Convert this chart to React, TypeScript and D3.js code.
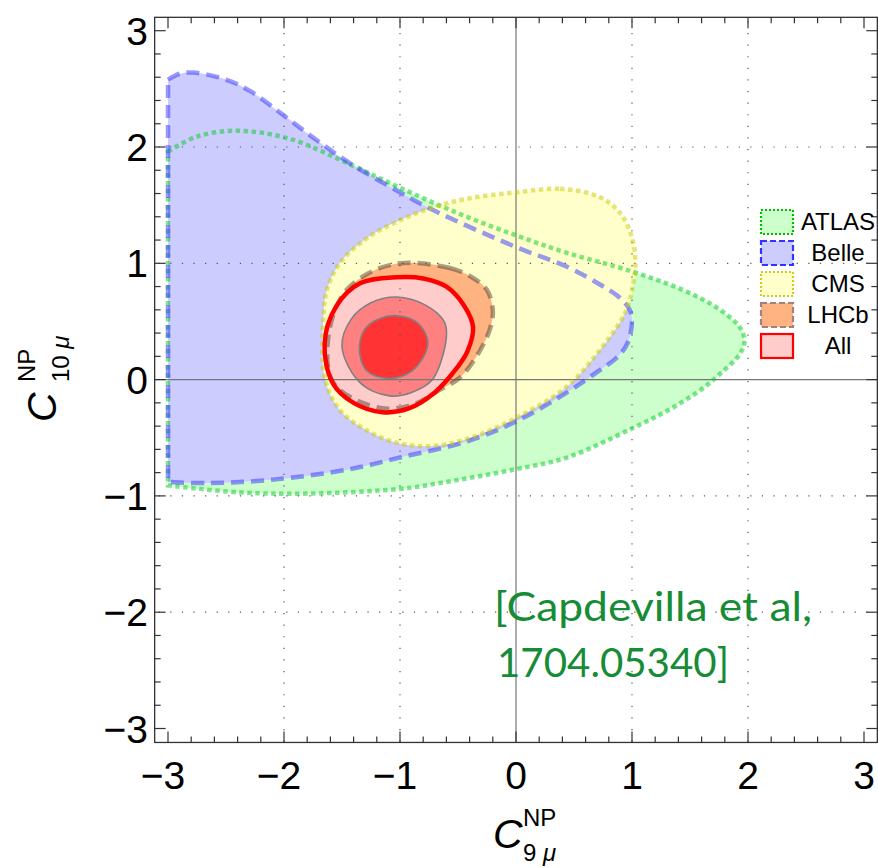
import * as d3 from "d3";
import React from "react";

// contour outlines, [C9, C10] pairs
const atlas: [number, number][] = [
  [-3, 1.96], [-2.75, 2.09], [-2.4, 2.14], [-1.95, 2.07], [-1.43, 1.85], [-1.0, 1.65],
  [-0.5, 1.43], [0, 1.24], [0.44, 1.09], [1.0, 0.93], [1.44, 0.77], [1.73, 0.62],
  [1.93, 0.45], [1.97, 0.33], [1.93, 0.22], [1.76, 0.05], [1.59, -0.09], [1.3, -0.27],
  [1.0, -0.42], [0.44, -0.67], [0, -0.77], [-0.66, -0.89], [-1.0, -0.94], [-1.8, -0.98],
  [-2.38, -0.97], [-3, -0.91],
];
const belle: [number, number][] = [
  [-3, 2.58], [-2.9, 2.63], [-2.78, 2.64], [-2.5, 2.58], [-2.29, 2.48], [-2.0, 2.27],
  [-1.72, 2.06], [-1.43, 1.86], [-1.0, 1.61], [-0.72, 1.46], [0, 1.14], [0.44, 0.97],
  [0.72, 0.82], [0.9, 0.7], [0.98, 0.6], [1.0, 0.5], [0.96, 0.31], [0.87, 0.19],
  [0.72, 0.08], [0.44, -0.11], [0, -0.36], [-0.42, -0.53], [-1.0, -0.67], [-1.43, -0.77],
  [-2.09, -0.86], [-2.66, -0.89], [-3, -0.88],
];
const cms: [number, number][] = [
  [0, 1.61], [0.38, 1.64], [0.72, 1.57], [0.9, 1.43], [1.0, 1.22], [1.03, 1.0],
  [1.0, 0.77], [0.96, 0.62], [0.9, 0.5], [0.72, 0.25], [0.44, -0.06], [0, -0.33],
  [-0.42, -0.51], [-0.72, -0.57], [-1.0, -0.55], [-1.28, -0.44], [-1.52, -0.26],
  [-1.65, 0.02], [-1.66, 0.54], [-1.63, 0.77], [-1.52, 1.0], [-1.28, 1.22], [-1.0, 1.37],
  [-0.72, 1.48], [-0.4, 1.56],
];
const lhcb: [number, number][] = [
  [-1.0, 1.0], [-0.57, 0.96], [-0.38, 0.88], [-0.25, 0.77], [-0.2, 0.6], [-0.22, 0.45],
  [-0.31, 0.25], [-0.48, 0.02], [-0.66, -0.09], [-0.85, -0.2], [-1.11, -0.25],
  [-1.43, -0.15], [-1.59, 0.0], [-1.62, 0.35], [-1.5, 0.72], [-1.28, 0.91],
];
const allOuter: [number, number][] = [
  [-1.03, 0.88], [-0.8, 0.87], [-0.6, 0.8], [-0.45, 0.64], [-0.37, 0.45], [-0.42, 0.24],
  [-0.51, 0.1], [-0.7, -0.11], [-0.93, -0.25], [-1.15, -0.28], [-1.4, -0.2], [-1.58, -0.03],
  [-1.65, 0.31], [-1.55, 0.63], [-1.34, 0.83],
];
const allMid: [number, number][] = [
  [-1.03, 0.71], [-0.78, 0.64], [-0.62, 0.5], [-0.6, 0.37], [-0.72, 0.0], [-0.9, -0.11],
  [-1.09, -0.14], [-1.34, -0.03], [-1.5, 0.28], [-1.42, 0.52], [-1.25, 0.66],
];
const allInner: [number, number][] = [
  [-1.06, 0.55], [-0.85, 0.49], [-0.76, 0.31], [-0.89, 0.08], [-1.1, 0.01], [-1.29, 0.08],
  [-1.35, 0.29], [-1.27, 0.47],
];

const majorTicks = [-3, -2, -1, 0, 1, 2, 3];
const gridValues = [-2, -1, 1, 2];
const legendNames = ["ATLAS", "Belle", "CMS", "LHCb", "All"];
const citation = ["[Capdevilla et al,", "1704.05340]"];

const x = d3.scaleLinear().domain([-3, 3]).range([168, 864]);
const y = d3.scaleLinear().domain([-3, 3]).range([728.5, 30.7]);

// closed smooth curve
const closed = d3
  .line<[number, number]>()
  .x((d) => x(d[0]))
  .y((d) => y(d[1]))
  .curve(d3.curveCatmullRomClosed.alpha(0.5));
// open curve, closed with a straight edge (the cut at C9 = -3)
const openCurve = d3
  .line<[number, number]>()
  .x((d) => x(d[0]))
  .y((d) => y(d[1]))
  .curve(d3.curveCatmullRom.alpha(0.5));
const cut = (pts: [number, number][]) => openCurve(pts) + "Z";

export default function App() {
  const x0 = x(-3.115), x1 = x(3.115);
  const y0 = y(-3.12), y1 = y(3.115);
  const minor = d3.range(-30, 31, 2).map((v) => v / 10).filter((v) => !majorTicks.includes(v));
  const fontAxis = "'Liberation Sans', Arial, sans-serif";

  const legendStyles = [
    { fill: "#ccffcc", stroke: "#00bb00", dash: "2 2" },
    { fill: "#ccccff", stroke: "#3333ff", dash: "6 3" },
    { fill: "#ffffcc", stroke: "#cccc22", dash: "2 2" },
    { fill: "#ffb380", stroke: "#a08080", dash: "6 3" },
    { fill: "#ffcccc", stroke: "#ff0000", dash: "none" },
  ];

  return (
    <div style={{ position: "absolute", left: 0, top: 0 }}>
      <svg width={878} height={868} style={{ display: "block", fontFamily: fontAxis }}>
        <defs>
          <clipPath id="plotClip">
            <rect x={x0} y={y1} width={x1 - x0} height={y0 - y1} />
          </clipPath>
        </defs>
        <rect width={878} height={868} fill="white" />

        {/* fills */}
        <g clipPath="url(#plotClip)">
          <path d={cut(atlas)} fill="#ccffcc" />
          <path d={cut(belle)} fill="#ccccff" />
          <path d={closed(cms) ?? ""} fill="#ffffcc" />
          <path d={closed(lhcb) ?? ""} fill="#ffb380" />
          <path d={closed(allOuter) ?? ""} fill="#ffcccc" />
          <path d={closed(allMid) ?? ""} fill="#ff8080" stroke="#808080" strokeWidth={1.6} />
          <path d={closed(allInner) ?? ""} fill="#ff3333" stroke="#808080" strokeWidth={1.6} />
        </g>

        {/* grid */}
        <g stroke="#555" strokeWidth={1.2} strokeDasharray="1.2 10.4">
          {gridValues.map((v) => (
            <line key={"gx" + v} x1={x(v)} x2={x(v)} y1={y1} y2={y0} strokeDashoffset={-4} />
          ))}
          {gridValues.map((v) => (
            <line key={"gy" + v} x1={x0} x2={x1} y1={y(v)} y2={y(v)} strokeDashoffset={-4} />
          ))}
        </g>
        <line x1={x(0)} x2={x(0)} y1={y1} y2={y0} stroke="#777" strokeWidth={1.2} />
        <line x1={x0} x2={x1} y1={y(0)} y2={y(0)} stroke="#777" strokeWidth={1.2} />

        {/* contour lines */}
        <g fill="none" clipPath="url(#plotClip)" strokeLinecap="butt">
          <path d={cut(atlas)} stroke="#00cc22" strokeOpacity={0.5} strokeWidth={4.5} strokeDasharray="4.5 3.5" />
          <path d={cut(belle)} stroke="#3333ff" strokeOpacity={0.5} strokeWidth={4.5} strokeDasharray="13 7" />
          <path d={closed(cms) ?? ""} stroke="#cccc00" strokeOpacity={0.5} strokeWidth={4.5} strokeDasharray="4.5 3.5" />
          <path d={closed(lhcb) ?? ""} stroke="#554433" strokeOpacity={0.5} strokeWidth={4.5} strokeDasharray="13 7" />
          <path d={closed(allOuter) ?? ""} stroke="#ff0000" strokeWidth={4.5} />
        </g>

        {/* frame and ticks */}
        <rect x={x0} y={y1} width={x1 - x0} height={y0 - y1} fill="none" stroke="#333" strokeWidth={1.3} />
        <g stroke="#333" strokeWidth={1.2}>
          {majorTicks.map((v) => (
            <g key={"M" + v}>
              <line x1={x(v)} x2={x(v)} y1={y0} y2={y0 - 11} />
              <line x1={x(v)} x2={x(v)} y1={y1} y2={y1 + 11} />
              <line x1={x0} x2={x0 + 11} y1={y(v)} y2={y(v)} />
              <line x1={x1} x2={x1 - 11} y1={y(v)} y2={y(v)} />
            </g>
          ))}
          {minor.map((v) => (
            <g key={"m" + v}>
              <line x1={x(v)} x2={x(v)} y1={y0} y2={y0 - 6} />
              <line x1={x(v)} x2={x(v)} y1={y1} y2={y1 + 6} />
              <line x1={x0} x2={x0 + 6} y1={y(v)} y2={y(v)} />
              <line x1={x1} x2={x1 - 6} y1={y(v)} y2={y(v)} />
            </g>
          ))}
        </g>

        {/* tick labels */}
        <g fontSize={39} fill="#000">
          {majorTicks.map((v) => (
            <text key={"xl" + v} x={x(v) - (v < 0 ? 5 : 0)} y={789} textAnchor="middle">
              {v < 0 ? "\u2212" + Math.abs(v) : String(v)}
            </text>
          ))}
          {majorTicks.map((v) => (
            <text key={"yl" + v} x={148} y={y(v) + 14} textAnchor="end">
              {v < 0 ? "\u2212" + Math.abs(v) : String(v)}
            </text>
          ))}
        </g>

        {/* axis labels */}
        <text x={493} y={848} fontSize={41} fontStyle="italic">C</text>
        <text x={523} y={826} fontSize={24}>NP</text>
        <text x={523} y={861} fontSize={24}>
          9 <tspan fontStyle="italic">μ</tspan>
        </text>
        <g transform="translate(56,422) rotate(-90)">
          <text x={0} y={0} fontSize={41} fontStyle="italic">C</text>
          <text x={40} y={-21} fontSize={24}>NP</text>
          <text x={40} y={13} fontSize={24}>
            10 <tspan fontStyle="italic">μ</tspan>
          </text>
        </g>

        {/* legend */}
        {legendNames.map((name, i) => {
          const s = legendStyles[i];
          const top = 210 + i * 31;
          return (
            <g key={name}>
              <rect x={761} y={top} width={32} height={24} fill={s.fill} stroke={s.stroke}
                strokeWidth={2.2} strokeDasharray={s.dash} />
              <text x={838} y={top + 20} fontSize={24} textAnchor="middle">{name}</text>
            </g>
          );
        })}

        {/* citation */}
        <g fill="#168c36" fontFamily="Lato, 'Open Sans', sans-serif" fontSize={41}>
          <text x={494} y={621} textLength={318} lengthAdjust="spacingAndGlyphs">{citation[0]}</text>
          <text x={497} y={677} textLength={232} lengthAdjust="spacingAndGlyphs">{citation[1]}</text>
        </g>
      </svg>
    </div>
  );
}
